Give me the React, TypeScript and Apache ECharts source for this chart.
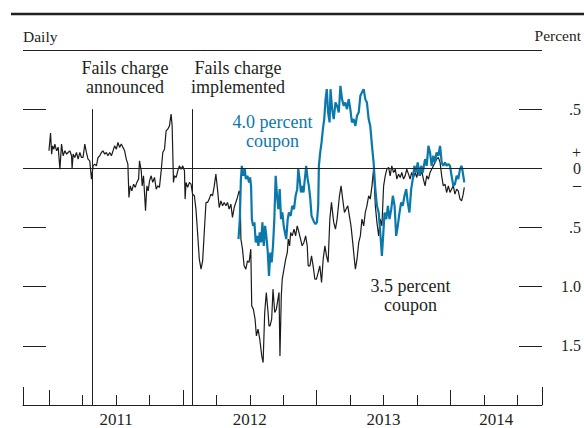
import React, { useEffect, useRef } from "react";
import * as echarts from "echarts";

// x values are decimal years, y values are percent (spread)
const coupon35: number[][] = [
  [2010.998,0.148],[2011.010,0.298],[2011.018,0.120],[2011.025,0.190],[2011.035,0.162],[2011.042,0.205],[2011.055,0.148],[2011.067,0.179],[2011.080,-0.007],[2011.092,0.205],[2011.104,0.106],[2011.117,0.148],[2011.130,0.120],[2011.141,0.134],[2011.154,0.148],[2011.167,0.106],[2011.171,-0.001],[2011.179,0.120],[2011.191,0.092],[2011.204,0.134],[2011.216,0.078],[2011.229,0.134],[2011.241,0.092],[2011.253,0.092],[2011.266,0.205],[2011.278,0.134],[2011.290,0.078],[2011.303,0.063],[2011.316,-0.091],[2011.328,0.021],[2011.340,0.036],[2011.353,0.021],[2011.365,0.092],[2011.378,0.106],[2011.390,0.134],[2011.402,0.148],[2011.415,0.120],[2011.427,0.134],[2011.439,0.106],[2011.452,0.134],[2011.465,0.106],[2011.477,0.148],[2011.489,0.190],[2011.502,0.162],[2011.514,0.219],[2011.526,0.177],[2011.539,0.205],[2011.551,0.177],[2011.564,0.148],[2011.576,0.078],[2011.588,0.036],[2011.596,-0.246],[2011.606,-0.148],[2011.618,-0.190],[2011.631,-0.134],[2011.643,-0.161],[2011.655,-0.119],[2011.668,-0.091],[2011.675,0.063],[2011.688,-0.021],[2011.695,-0.148],[2011.705,-0.063],[2011.720,-0.359],[2011.730,-0.148],[2011.740,-0.190],[2011.750,-0.106],[2011.762,-0.063],[2011.774,-0.119],[2011.787,-0.077],[2011.800,-0.176],[2011.812,-0.148],[2011.824,-0.161],[2011.837,-0.021],[2011.849,0.134],[2011.862,0.162],[2011.874,0.317],[2011.886,0.331],[2011.899,0.359],[2011.911,0.458],[2011.919,0.359],[2011.929,-0.119],[2011.936,-0.063],[2011.949,-0.077],[2011.961,-0.021],[2011.973,0.021],[2011.986,-0.007],[2011.998,0.021],[2012.011,-0.021],[2012.016,-0.260],[2012.023,-0.119],[2012.035,-0.161],[2012.048,-0.119],[2012.060,-0.134],[2012.072,-0.218],[2012.085,-0.232],[2012.097,-0.345],[2012.109,-0.542],[2012.122,-0.768],[2012.135,-0.852],[2012.147,-0.782],[2012.159,-0.542],[2012.172,-0.288],[2012.184,-0.288],[2012.196,-0.260],[2012.209,-0.218],[2012.221,-0.232],[2012.234,-0.148],[2012.246,-0.049],[2012.258,-0.176],[2012.271,-0.331],[2012.284,-0.275],[2012.296,-0.317],[2012.308,-0.288],[2012.321,-0.317],[2012.333,-0.288],[2012.345,-0.345],[2012.358,-0.303],[2012.370,-0.415],[2012.383,-0.331],[2012.395,-0.288],[2012.407,-0.246],[2012.420,-0.190],[2012.427,-0.218],[2012.433,-0.598],[2012.445,-0.683],[2012.457,-0.824],[2012.470,-0.852],[2012.482,-0.782],[2012.494,-0.795],[2012.507,-0.683],[2012.514,-1.162],[2012.526,-1.190],[2012.539,-1.275],[2012.549,-1.416],[2012.561,-1.359],[2012.574,-1.444],[2012.589,-1.585],[2012.599,-1.641],[2012.611,-1.218],[2012.623,-1.049],[2012.636,-1.218],[2012.643,-1.331],[2012.651,-1.331],[2012.663,-1.275],[2012.673,-1.021],[2012.686,-1.218],[2012.698,-1.190],[2012.710,-1.106],[2012.718,-1.049],[2012.725,-1.585],[2012.735,-1.078],[2012.742,-0.937],[2012.755,-0.852],[2012.768,-0.768],[2012.780,-0.711],[2012.787,-0.598],[2012.797,-0.655],[2012.805,-0.542],[2012.817,-0.571],[2012.830,-0.514],[2012.842,-0.571],[2012.854,-0.486],[2012.867,-0.542],[2012.879,-0.598],[2012.891,-0.655],[2012.904,-0.626],[2012.917,-0.571],[2012.929,-0.655],[2012.936,-0.824],[2012.949,-0.824],[2012.961,-0.740],[2012.973,-0.824],[2012.986,-0.937],[2012.998,-0.937],[2013.011,-0.880],[2013.023,-0.824],[2013.036,-0.964],[2013.048,-0.768],[2013.061,-0.655],[2013.073,-0.740],[2013.085,-0.795],[2013.098,-0.429],[2013.110,-0.288],[2013.127,-0.457],[2013.140,-0.514],[2013.152,-0.429],[2013.170,-0.232],[2013.182,-0.148],[2013.194,-0.260],[2013.207,-0.373],[2013.219,-0.345],[2013.232,-0.317],[2013.244,-0.402],[2013.256,-0.486],[2013.269,-0.626],[2013.281,-0.768],[2013.289,-0.852],[2013.301,-0.768],[2013.314,-0.626],[2013.326,-0.571],[2013.338,-0.429],[2013.351,-0.486],[2013.363,-0.373],[2013.375,-0.317],[2013.388,-0.232],[2013.400,-0.260],[2013.413,-0.148],[2013.425,-0.007],[2013.438,-0.317],[2013.450,-0.457],[2013.463,-0.571],[2013.475,-0.429],[2013.487,-0.486],[2013.500,-0.148],[2013.512,-0.063],[2013.524,-0.007],[2013.537,0.008],[2013.549,-0.063],[2013.561,0.021],[2013.574,-0.035],[2013.587,-0.007],[2013.599,-0.091],[2013.611,-0.049],[2013.624,-0.077],[2013.636,-0.035],[2013.649,-0.091],[2013.661,-0.063],[2013.673,-0.007],[2013.686,-0.049],[2013.698,-0.091],[2013.710,-0.035],[2013.723,-0.077],[2013.736,-0.035],[2013.748,-0.077],[2013.760,-0.007],[2013.773,-0.063],[2013.785,-0.021],[2013.797,-0.091],[2013.810,-0.148],[2013.822,-0.063],[2013.835,-0.091],[2013.847,-0.035],[2013.859,-0.007],[2013.872,0.021],[2013.884,0.050],[2013.896,0.078],[2013.909,0.092],[2013.922,0.050],[2013.934,-0.063],[2013.946,-0.148],[2013.959,-0.134],[2013.971,-0.204],[2013.984,-0.148],[2013.996,-0.204],[2014.008,-0.176],[2014.021,-0.148],[2014.033,-0.218],[2014.046,-0.176],[2014.058,-0.190],[2014.071,-0.260],[2014.083,-0.275],[2014.095,-0.218],[2014.103,-0.161]
];

const coupon40: number[][] = [
  [2012.415,-0.598],[2012.425,-0.429],[2012.433,-0.091],[2012.440,0.021],[2012.450,-0.063],[2012.462,-0.007],[2012.470,-0.091],[2012.482,-0.063],[2012.494,-0.119],[2012.502,-0.077],[2012.509,-0.148],[2012.515,-0.429],[2012.524,-0.486],[2012.534,-0.457],[2012.544,-0.626],[2012.554,-0.571],[2012.564,-0.655],[2012.574,-0.542],[2012.584,-0.626],[2012.594,-0.457],[2012.604,-0.655],[2012.614,-0.486],[2012.623,-0.571],[2012.634,-0.711],[2012.643,-0.909],[2012.653,-0.711],[2012.663,-0.795],[2012.673,-0.655],[2012.683,-0.429],[2012.693,-0.063],[2012.703,-0.232],[2012.713,-0.345],[2012.723,-0.176],[2012.733,-0.429],[2012.743,-0.373],[2012.753,-0.486],[2012.762,-0.542],[2012.772,-0.598],[2012.783,-0.429],[2012.792,-0.373],[2012.805,-0.402],[2012.817,-0.317],[2012.830,-0.345],[2012.842,-0.232],[2012.854,-0.176],[2012.862,-0.007],[2012.872,-0.091],[2012.882,-0.204],[2012.891,-0.148],[2012.901,-0.204],[2012.911,-0.091],[2012.921,0.021],[2012.932,-0.091],[2012.941,-0.148],[2012.952,-0.260],[2012.961,-0.402],[2012.971,-0.429],[2012.981,-0.457],[2012.991,-0.472],[2013.001,-0.457],[2013.011,-0.317],[2013.016,0.021],[2013.026,0.134],[2013.036,0.219],[2013.046,0.331],[2013.056,0.416],[2013.066,0.585],[2013.075,0.669],[2013.085,0.473],[2013.096,0.388],[2013.103,0.669],[2013.115,0.500],[2013.127,0.416],[2013.140,0.557],[2013.152,0.528],[2013.165,0.473],[2013.177,0.697],[2013.189,0.585],[2013.202,0.528],[2013.214,0.557],[2013.226,0.500],[2013.239,0.585],[2013.251,0.500],[2013.263,0.388],[2013.276,0.416],[2013.289,0.359],[2013.301,0.444],[2013.314,0.473],[2013.326,0.613],[2013.338,0.642],[2013.351,0.669],[2013.363,0.585],[2013.375,0.557],[2013.388,0.416],[2013.400,0.359],[2013.413,0.190],[2013.425,0.050],[2013.438,-0.176],[2013.450,-0.317],[2013.463,-0.373],[2013.475,-0.542],[2013.487,-0.740],[2013.495,-0.598],[2013.507,-0.373],[2013.520,-0.429],[2013.532,-0.317],[2013.544,-0.429],[2013.557,-0.345],[2013.569,-0.232],[2013.582,-0.317],[2013.594,-0.571],[2013.606,-0.486],[2013.619,-0.373],[2013.631,-0.288],[2013.643,-0.317],[2013.656,-0.232],[2013.669,-0.176],[2013.680,-0.288],[2013.693,-0.373],[2013.706,-0.176],[2013.718,-0.091],[2013.730,0.021],[2013.743,-0.035],[2013.755,0.050],[2013.768,-0.063],[2013.780,0.021],[2013.792,-0.035],[2013.810,0.078],[2013.822,0.021],[2013.835,0.190],[2013.847,0.134],[2013.859,0.021],[2013.872,0.106],[2013.884,0.050],[2013.896,0.134],[2013.909,0.106],[2013.922,0.190],[2013.934,0.050],[2013.946,0.021],[2013.959,0.050],[2013.971,0.021],[2013.984,0.036],[2013.996,0.021],[2014.008,-0.063],[2014.021,-0.148],[2014.033,-0.134],[2014.046,-0.063],[2014.058,-0.091],[2014.071,-0.007],[2014.083,0.021],[2014.090,-0.021],[2014.103,-0.119]
];

const xMin = 2010.804;
const xMax = 2014.684;
const yMin = -2;
const yMax = 1;
const quarterTicks = [2011.25, 2011.5, 2011.75, 2012.25, 2012.5, 2012.75, 2013.25, 2013.5, 2013.75, 2014.25, 2014.5];
const yearTicks = [2011, 2012, 2013, 2014];
const endTicks = [xMin, xMax];
const yearLabelPositions = [2011.5, 2012.5, 2013.5, 2014.342];
const yearLabels = ["2011", "2012", "2013", "2014"];
const percentTicks = [0.5, -0.5, -1.0, -1.5];
const percentLabelValues = [0.5, 0, -0.5, -1.0, -1.5];
const percentLabels = [".5", "+\n0\n\u2013", ".5", "1.0", "1.5"];
const eventDates = [2011.318, 2012.070];
const eventTop = 0.5;

const FONT = '"Liberation Serif", "Times New Roman", serif';
const INK = "#231f20";
const BLUE = "#0b78ac";

export default function App() {
  const ref = useRef<HTMLDivElement>(null);
  useEffect(() => {
    if (!ref.current) return;
    const chart = echarts.init(ref.current, undefined, { renderer: "svg" });
    const baseX = {
      type: "value" as const,
      position: "bottom" as const,
      min: xMin,
      max: xMax,
      splitLine: { show: false },
    };
    const baseY = {
      type: "value" as const,
      min: yMin,
      max: yMax,
      splitLine: { show: false },
      axisLine: { show: false, onZero: false },
    };
    const txt = (x: number, y: number, text: string, fill: string, size: number, lh: number, align: string) => ({
      type: "text",
      x,
      y,
      style: { text, fill, fontSize: size, fontFamily: FONT, lineHeight: lh, align, verticalAlign: "middle" },
    });
    chart.setOption({
      animation: false,
      backgroundColor: "#ffffff",
      grid: { left: 23, right: 40, top: 50, bottom: 23, containLabel: false },
      xAxis: [
        {
          ...baseX,
          axisLine: { show: true, onZero: false, lineStyle: { color: INK, width: 1 } },
          axisTick: { show: true, inside: true, length: 10, customValues: quarterTicks, lineStyle: { color: INK, width: 1 } },
          axisLabel: { show: false },
        },
        {
          ...baseX,
          axisLine: { show: false, onZero: false },
          axisTick: { show: true, inside: true, length: 15, customValues: yearTicks, lineStyle: { color: INK, width: 1 } },
          axisLabel: {
            show: true,
            customValues: yearLabelPositions,
            margin: 6,
            color: INK,
            fontFamily: FONT,
            fontSize: 17,
            formatter: (v: number) => {
              const i = yearLabelPositions.findIndex((p) => Math.abs(p - v) < 1e-6);
              return i >= 0 ? yearLabels[i] : "";
            },
          },
        },
        {
          ...baseX,
          axisLine: { show: false, onZero: false },
          axisTick: { show: true, inside: true, length: 18, customValues: endTicks, lineStyle: { color: INK, width: 1 } },
          axisLabel: { show: false },
        },
      ],
      yAxis: [
        {
          ...baseY,
          position: "left",
          axisTick: { show: true, inside: true, length: 23, customValues: percentTicks, lineStyle: { color: INK, width: 1 } },
          axisLabel: { show: false },
        },
        {
          ...baseY,
          position: "right",
          axisTick: { show: true, inside: true, length: 23, customValues: percentTicks, lineStyle: { color: INK, width: 1 } },
          axisLabel: {
            show: true,
            customValues: percentLabelValues,
            align: "right",
            margin: 39,
            color: INK,
            fontFamily: FONT,
            fontSize: 16,
            lineHeight: 16,
            formatter: (v: number) => {
              const i = percentLabelValues.findIndex((p) => Math.abs(p - v) < 1e-6);
              return i >= 0 ? percentLabels[i] : "";
            },
          },
        },
      ],
      series: [
        {
          name: "3.5 percent coupon",
          type: "line",
          xAxisIndex: 0,
          yAxisIndex: 0,
          data: coupon35,
          showSymbol: false,
          symbol: "none",
          lineStyle: { color: "#1b1b1b", width: 1.2 },
          z: 3,
          markLine: {
            silent: true,
            symbol: "none",
            label: { show: false },
            lineStyle: { color: INK, width: 1, type: "solid" },
            data: [
              { yAxis: 0 },
              { yAxis: yMax },
              ...eventDates.map((d) => [{ coord: [d, eventTop] }, { coord: [d, yMin] }]),
            ],
          },
        },
        {
          name: "4.0 percent coupon",
          type: "line",
          xAxisIndex: 0,
          yAxisIndex: 0,
          data: coupon40,
          showSymbol: false,
          symbol: "none",
          lineStyle: { color: BLUE, width: 2.2 },
          z: 4,
        },
      ],
      graphic: [
        { type: "line", shape: { x1: 11, y1: 14, x2: 584, y2: 14 }, style: { stroke: INK, lineWidth: 2.5 } },
        txt(23, 36, "Daily", INK, 15.5, 16, "left"),
        txt(581, 35, "Percent", INK, 15.5, 16, "right"),
        txt(125, 77, "Fails charge\nannounced", INK, 18, 19, "center"),
        txt(238, 77, "Fails charge\nimplemented", INK, 18, 19, "center"),
        txt(272.5, 131, "4.0 percent\ncoupon", BLUE, 18, 19, "center"),
        txt(410.5, 295, "3.5 percent\ncoupon", INK, 18, 19, "center"),
      ],
    });
    return () => chart.dispose();
  }, []);
  return <div ref={ref} style={{ width: 584, height: 428, position: "absolute", left: 0, top: 0 }} />;
}
